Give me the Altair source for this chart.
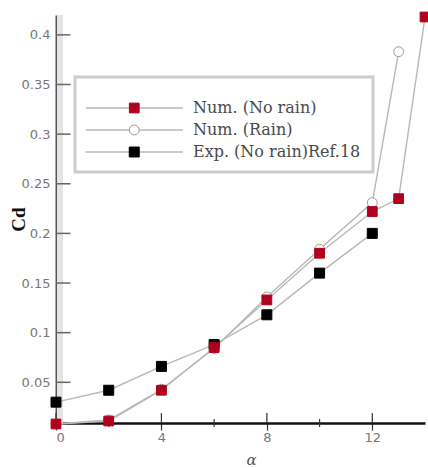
import altair as alt
import pandas as pd

series_names = ["Num. (No rain)", "Num. (Rain)", "Exp. (No rain)Ref.18"]

x_norain = [0, 2, 4, 6, 8, 10, 12, 13, 14]
y_norain = [0.008, 0.011, 0.042, 0.085, 0.133, 0.180, 0.222, 0.235, 0.418]

x_rain = [0, 2, 4, 6, 8, 10, 12, 13]
y_rain = [0.008, 0.012, 0.043, 0.084, 0.136, 0.184, 0.231, 0.383]

x_exp = [0, 2, 4, 6, 8, 10, 12]
y_exp = [0.030, 0.042, 0.066, 0.088, 0.118, 0.160, 0.200]

y_tick_values = [0.05, 0.1, 0.15, 0.2, 0.25, 0.3, 0.35, 0.4]
x_tick_values = [0, 4, 8, 12]
x_minor_ticks = [2, 6, 10]

rows = []
for name, xs, ys in [(series_names[2], x_exp, y_exp),
                     (series_names[1], x_rain, y_rain),
                     (series_names[0], x_norain, y_norain)]:
    for a, c in zip(xs, ys):
        rows.append({"alpha": a, "cd": c, "series": name, "lseries": name})
df = pd.DataFrame(rows)

XS = alt.Scale(domain=[0, 14], nice=False, zero=False)
YS = alt.Scale(domain=[0.009, 0.42], nice=False, zero=False)

x_axis = alt.Axis(values=x_tick_values, format="d", tickSize=7, tickColor="#333333",
                  tickWidth=1.2, domainColor="#111111", domainWidth=2.5,
                  labelFont="DejaVu Sans", labelFontSize=13, labelColor="#777777",
                  labelPadding=1, grid=False, title="α", titleFont="DejaVu Serif",
                  titleFontStyle="italic", titleFontWeight="normal", titleFontSize=15,
                  titleColor="#555555", titleX=195, titleY=36, titleBaseline="middle")
y_axis = alt.Axis(values=y_tick_values, format=".2~f", ticks=False, labelPadding=6,
                  domainColor="#555555", domainWidth=2,
                  labelFont="DejaVu Sans", labelFontSize=13, labelColor="#777777",
                  grid=False, title="Cd", titleFont="Liberation Serif", titleFontSize=19,
                  titleFontWeight="bold", titleColor="#111111", titleX=-38, titleY=204,
                  titleAngle=270, titleAlign="center", titleBaseline="middle")

x_enc = alt.X("alpha:Q", scale=XS, axis=x_axis)
y_enc = alt.Y("cd:Q", scale=YS, axis=y_axis)

legend_common = dict(orient="none", legendX=19, legendY=62, padding=12, title=" ",
                     titleFontSize=11, titlePadding=0, rowPadding=6,
                     labelFont="DejaVu Serif", labelFontSize=16, labelLimit=400,
                     symbolSize=100, symbolOffset=39.25, labelOffset=50.75)

# horizontal segment through the marker, drawn by the line legend
legend_lines = alt.Legend(symbolType="M-9.7,0H9.7", symbolStrokeWidth=1.5,
                          labelOpacity=0, strokeColor="#cccccc", zindex=0,
                          **legend_common)
legend_points = alt.Legend(labelColor="#4a4a4a", symbolStrokeWidth=1, zindex=1,
                           **legend_common)

band = alt.Chart(pd.DataFrame({"v": [0]})).mark_rule(
    color="#e4e4e4", strokeWidth=6, xOffset=4
).encode(x=alt.X("v:Q", scale=XS, axis=x_axis))

lines = alt.Chart(df).mark_line(strokeWidth=1.4).encode(
    x=x_enc, y=y_enc,
    color=alt.Color("lseries:N",
                    scale=alt.Scale(domain=series_names,
                                    range=["#b8b8b8", "#b8b8b8", "#b8b8b8"]),
                    legend=legend_lines),
    detail="series:N",
)

points = alt.Chart(df).mark_point(strokeWidth=1, opacity=1).encode(
    x=x_enc, y=y_enc,
    shape=alt.Shape("series:N", scale=alt.Scale(domain=series_names,
                                                range=["square", "circle", "square"]),
                    legend=legend_points),
    fill=alt.Fill("series:N", scale=alt.Scale(domain=series_names,
                                              range=["#b0001e", "#ffffff", "#000000"]),
                  legend=legend_points),
    stroke=alt.Stroke("series:N", scale=alt.Scale(domain=series_names,
                                                  range=["#b0001e", "#9a9a9a", "#000000"]),
                      legend=legend_points),
    size=alt.Size("series:N", scale=alt.Scale(domain=series_names, range=[95, 100, 60]),
                  legend=legend_points),
)

ytick_df = pd.DataFrame({"cd": y_tick_values, "a0": [0] * len(y_tick_values),
                         "a1": [0.55] * len(y_tick_values)})
yticks = alt.Chart(ytick_df).mark_rule(color="#666666", strokeWidth=1.5).encode(
    y=alt.Y("cd:Q", scale=YS, axis=y_axis),
    x=alt.X("a0:Q", scale=XS, axis=x_axis), x2="a1:Q")

xtick_df = pd.DataFrame({"alpha": x_tick_values, "c0": [0.009] * len(x_tick_values),
                         "c1": [0.019] * len(x_tick_values)})
xticks = alt.Chart(xtick_df).mark_rule(color="#333333", strokeWidth=1.2).encode(
    x=alt.X("alpha:Q", scale=XS, axis=x_axis),
    y=alt.Y("c0:Q", scale=YS, axis=y_axis), y2="c1:Q")

xminor_df = pd.DataFrame({"alpha": x_minor_ticks, "c0": [0.005] * len(x_minor_ticks),
                          "c1": [0.013] * len(x_minor_ticks)})
xminor = alt.Chart(xminor_df).mark_rule(color="#333333", strokeWidth=1.2).encode(
    x=alt.X("alpha:Q", scale=XS, axis=x_axis),
    y=alt.Y("c0:Q", scale=YS, axis=y_axis), y2="c1:Q")

chart = alt.layer(band, yticks, xticks, xminor, lines, points).properties(
    width=369, height=408, autosize="none",
    padding={"left": 56, "top": 15, "right": 3, "bottom": 45},
).resolve_scale(color="independent").configure_view(
    strokeWidth=0
).configure_legend(strokeWidth=3)

chart.save("out.html", embed_options={"renderer": "svg", "actions": False})
